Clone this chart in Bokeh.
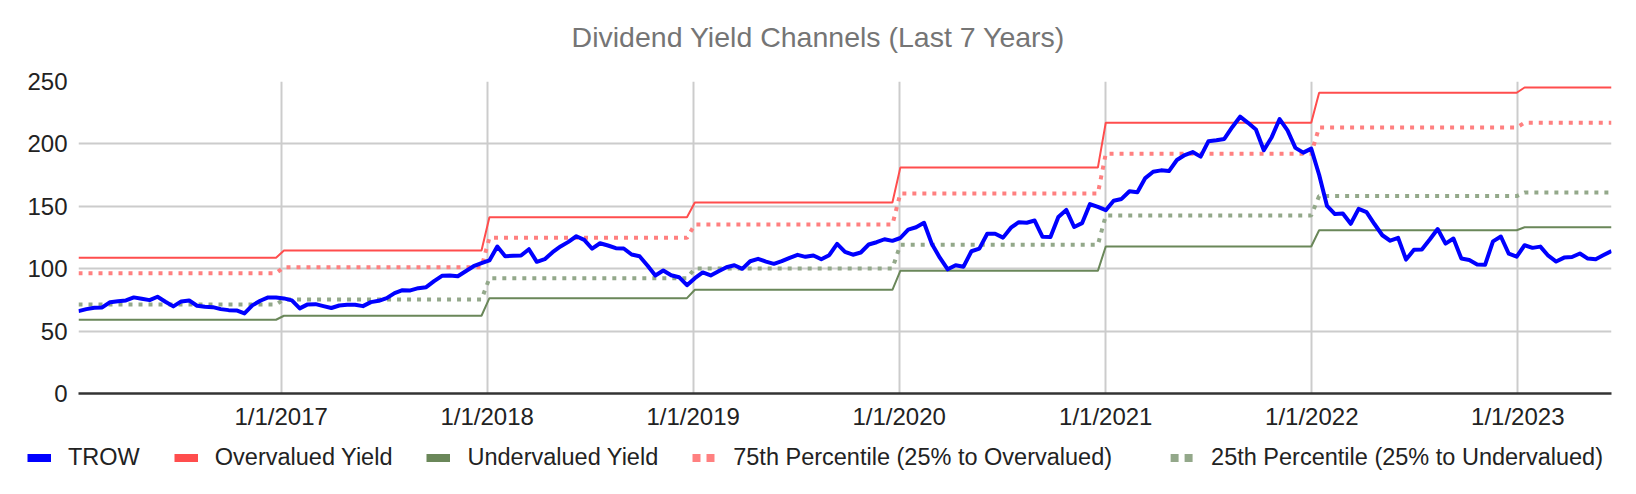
import pandas as pd
from bokeh.plotting import figure
from bokeh.layouts import column
from bokeh.models import (ColumnDataSource, Range1d, FixedTicker, Label,
                          CustomJSTickFormatter, Legend, LegendItem)
from bokeh.embed import file_html
from bokeh.resources import INLINE

FONT = "Liberation Sans"

# biweekly readings (Fridays), first one on 2016-01-08
first_date = "2016-01-08"
trow = [
    66.0, 67.6, 68.7, 69.0, 73.2, 74.0, 74.6, 77.0, 75.9, 74.8,
    77.5, 73.5, 69.8, 73.8, 74.6, 70.3, 69.5, 69.2, 67.6, 66.8,
    66.6, 64.2, 70.6, 74.3, 77.0, 77.0, 76.2, 74.6, 68.2, 71.4,
    71.6, 70.0, 68.5, 70.5, 71.1, 71.1, 70.0, 73.2, 74.3, 76.4,
    80.4, 82.8, 82.6, 84.4, 85.2, 90.0, 94.3, 94.6, 94.0, 98.0,
    102.0, 104.4, 106.6, 117.8, 110.0, 110.3, 110.6, 115.6, 105.5, 107.6,
    113.2, 117.8, 121.5, 126.0, 123.1, 116.0, 120.4, 118.6, 116.4, 116.2,
    111.4, 110.0, 102.6, 94.6, 98.6, 94.8, 93.2, 86.8, 92.4, 97.0,
    94.6, 98.0, 101.2, 102.8, 99.9, 106.0, 107.9, 105.7, 103.9, 106.0,
    108.7, 111.1, 109.5, 110.6, 107.6, 110.8, 119.9, 113.5, 111.2, 113.0,
    119.4, 121.2, 123.6, 122.3, 124.6, 131.3, 133.2, 136.8, 119.7, 108.8,
    99.5, 102.8, 101.6, 114.0, 116.1, 128.0, 128.0, 124.9, 132.9, 137.3,
    136.8, 138.6, 125.6, 125.4, 141.4, 147.1, 133.4, 136.5, 151.8, 149.5,
    146.9, 154.5, 155.9, 162.1, 161.3, 172.6, 177.7, 178.8, 178.2, 187.1,
    191.1, 193.5, 189.8, 202.2, 203.0, 204.0, 213.4, 221.8, 216.9, 211.6,
    194.9, 205.4, 219.9, 210.8, 196.8, 193.0, 196.2, 175.3, 150.3, 143.8,
    144.3, 136.0, 147.9, 145.3, 135.8, 126.8, 122.4, 124.7, 107.3, 115.1,
    115.4, 123.4, 131.8, 120.1, 124.2, 108.1, 107.0, 103.4, 103.1, 121.9,
    125.8, 112.0, 109.6, 118.8, 116.7, 117.7, 110.4, 105.7, 108.9, 109.4,
    112.2, 108.1, 107.6, 110.9, 114.1,
]

# yearly channel levels
years = [2016, 2017, 2018, 2019, 2020, 2021, 2022, 2023]
overvalued = [108.7, 114.6, 141.2, 153.0, 181.0, 217.0, 241.0, 245.2]
pct75 = [96.4, 101.2, 124.7, 135.4, 160.2, 192.2, 213.2, 217.0]
pct25 = [71.4, 75.4, 92.4, 100.2, 119.1, 142.6, 158.2, 161.0]
undervalued = [59.1, 62.3, 76.4, 83.1, 98.3, 117.8, 130.8, 133.2]

x_ticks = ["2017-01-01", "2018-01-01", "2019-01-01", "2020-01-01",
           "2021-01-01", "2022-01-01", "2023-01-01"]
y_ticks = [0, 50, 100, 150, 200, 250]


def by_year(dates, levels):
    lookup = dict(zip(years, levels))
    return [lookup[d.year] for d in dates]


def strip(height):
    # empty full-width figure used for the title and the legend rows
    s = figure(
        width=1636, height=height, output_backend="svg", toolbar_location=None,
        x_range=Range1d(0, 1), y_range=Range1d(0, 1), min_border=0,
        x_axis_location=None, y_axis_location=None, frame_align=False,
    )
    s.grid.visible = False
    s.outline_line_color = None
    return s


def make_legend(items, location, margin):
    return Legend(
        items=items, orientation="horizontal", location=location,
        glyph_width=24, glyph_height=20, label_height=20,
        label_standoff=17, spacing=34, padding=0, margin=margin,
        border_line_color=None, background_fill_alpha=0,
        label_text_font=FONT, label_text_font_size="23.5px",
        label_text_color="#222222",
    )


dates = pd.date_range(first_date, periods=len(trow), freq="14D")
source = ColumnDataSource({
    'date': dates,
    'trow': trow,
    'over': by_year(dates, overvalued),
    'p75': by_year(dates, pct75),
    'p25': by_year(dates, pct25),
    'under': by_year(dates, undervalued),
})

head = strip(60)
head.add_layout(Label(
    x=818, y=24, x_units="screen", y_units="screen",
    text="Dividend Yield Channels (Last 7 Years)",
    text_align="center", text_baseline="middle",
    text_font=FONT, text_font_size="28.5px", text_color="#757575",
))

p = figure(
    width=1636, height=378, x_axis_type="datetime",
    output_backend="svg", toolbar_location=None, frame_align=False,
    x_range=Range1d(dates[0], dates[-1]), y_range=Range1d(0, 250),
    min_border_left=78, min_border_right=25,
    min_border_top=21, min_border_bottom=45,
)
p.outline_line_color = None

tick_ms = [pd.Timestamp(t).value / 1e6 for t in x_ticks]
p.xaxis.ticker = FixedTicker(ticks=tick_ms)
p.xgrid.ticker = FixedTicker(ticks=tick_ms)
p.yaxis.ticker = FixedTicker(ticks=y_ticks)
p.ygrid.ticker = FixedTicker(ticks=y_ticks)
p.xaxis.formatter = CustomJSTickFormatter(code="""
    const d = new Date(tick);
    return (d.getUTCMonth() + 1) + "/" + d.getUTCDate() + "/" + d.getUTCFullYear();
""")

for ax in (p.xaxis, p.yaxis):
    ax.major_tick_out = 0
    ax.major_tick_in = 0
    ax.major_tick_line_color = None
    ax.minor_tick_line_color = None
    ax.major_label_text_font = FONT
    ax.major_label_text_font_size = "24px"
    ax.major_label_text_color = "#222222"
p.yaxis.axis_line_color = None
p.yaxis.major_label_standoff = 11
p.xaxis.axis_line_color = "#333333"
p.xaxis.axis_line_width = 2.5
p.xaxis.major_label_standoff = 9

p.grid.grid_line_color = "#cccccc"
p.grid.grid_line_width = 2

p.line('date', 'over', source=source, line_color="#ff4d4d", line_width=2)
p.line('date', 'under', source=source, line_color="#6a8759", line_width=2)
p.line('date', 'p75', source=source, line_color="#ff8080", line_width=4,
       line_dash="4 6")
p.line('date', 'p25', source=source, line_color="#93a88a", line_width=4,
       line_dash="4 6")
p.line('date', 'trow', source=source, line_color="#0000ff", line_width=4,
       line_join="round")

# legend row; its lines sit outside the strip's range so only swatches show
leg = strip(38)
swatches = [
    ("TROW", "#0000ff", "solid"),
    ("Overvalued Yield", "#ff4d4d", "solid"),
    ("Undervalued Yield", "#6a8759", "solid"),
    ("75th Percentile (25% to Overvalued)", "#ff8080", "8 6"),
    ("25th Percentile (25% to Undervalued)", "#93a88a", "8 6"),
]
items = []
for label, color, dash in swatches:
    r = leg.line(x=[5, 6], y=[5, 6], line_color=color, line_width=8,
                 line_dash=dash)
    items.append(LegendItem(label=label, renderers=[r]))

# the last entry sits a little further out, flush with the right side
leg.add_layout(make_legend(items[:4], "left", 27), "center")
leg.add_layout(make_legend(items[4:], "right", 33), "center")

page = column(head, p, leg, spacing=0)
open("out.html", "w").write(file_html(page, INLINE))
